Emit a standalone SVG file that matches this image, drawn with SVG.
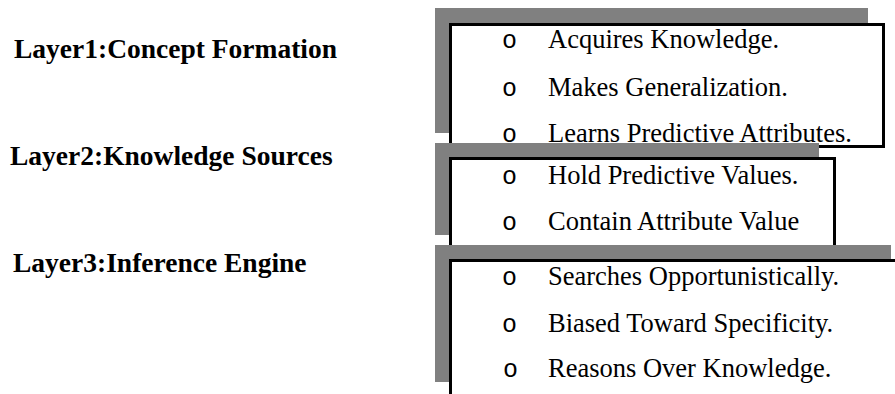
<svg xmlns="http://www.w3.org/2000/svg" width="895" height="394" viewBox="0 0 895 394">
<style>
.lbl{font-family:"Liberation Serif","Times New Roman",serif;font-weight:bold;font-size:27.5px;fill:#000}
.item{font-family:"Liberation Serif","Times New Roman",serif;font-size:26.5px;fill:#000}
.bul{font-family:"Liberation Mono","Courier New",monospace;font-size:25px;fill:#000}
.shadow{fill:#808080}
.box{fill:#fff;stroke:#000;stroke-width:3}
</style>
<rect width="895" height="394" fill="#fff"/>
<g id="layer1-label"><text class="lbl" x="14" y="58">Layer1:Concept Formation</text></g>
<g id="layer2-label"><text class="lbl" x="10" y="165">Layer2:Knowledge Sources</text></g>
<g id="layer3-label"><text class="lbl" x="13" y="272">Layer3:Inference Engine</text></g>
<g id="layer1-box">
<rect class="shadow" x="435" y="8" width="433" height="125"/>
<rect class="box" x="450.5" y="24.5" width="433" height="122"/>
<text class="bul" x="502" y="48">o</text><text class="item" x="548" y="48">Acquires Knowledge.</text>
<text class="bul" x="502" y="96">o</text><text class="item" x="548" y="96">Makes Generalization.</text>
<text class="bul" x="502" y="142">o</text><text class="item" x="548" y="142">Learns Predictive Attributes.</text>
</g>
<g id="layer2-box">
<rect class="shadow" x="435" y="143" width="384" height="92"/>
<rect class="box" x="450.5" y="158.5" width="384" height="92"/>
<text class="bul" x="502" y="184">o</text><text class="item" x="548" y="184">Hold Predictive Values.</text>
<text class="bul" x="502" y="230">o</text><text class="item" x="548" y="230">Contain Attribute Value</text>
</g>
<g id="layer3-box">
<rect class="shadow" x="435" y="245" width="456" height="137"/>
<rect class="box" x="450.5" y="260.5" width="470" height="150"/>
<text class="bul" x="502" y="285">o</text><text class="item" x="548" y="285">Searches Opportunistically.</text>
<text class="bul" x="502" y="332">o</text><text class="item" x="548" y="332">Biased Toward Specificity.</text>
<text class="bul" x="503" y="377" font-size="22">o</text><text class="item" x="548" y="377">Reasons Over Knowledge.</text>
</g>
<g id="connectors"></g>
</svg>
